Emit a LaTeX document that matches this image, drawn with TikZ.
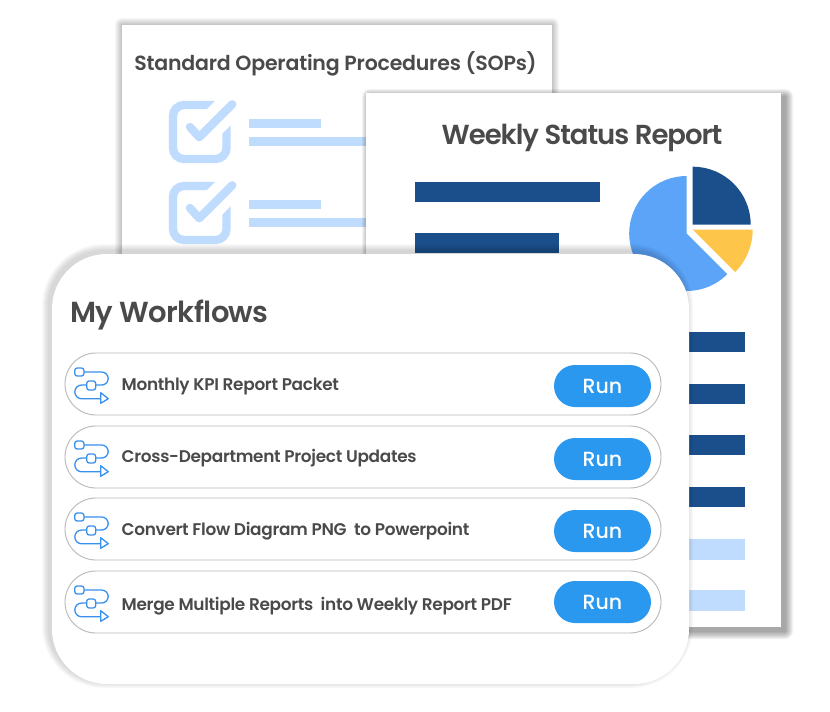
\documentclass[tikz,border=0pt]{standalone}
\usepackage{fontspec}
\setmainfont{Poppins}[BoldFont={Poppins SemiBold}]
\newfontfamily\runfont{Poppins Medium}
\definecolor{inkgray}{HTML}{4A4A4A}
\definecolor{navybar}{HTML}{1B4F8C}
\definecolor{palebar}{HTML}{BFDBFE}
\definecolor{skyblue}{HTML}{5CA4F8}
\definecolor{sunyellow}{HTML}{FEC54B}
\definecolor{runblue}{HTML}{2B98F0}
\definecolor{iconblue}{HTML}{3A90EE}
\definecolor{rowgray}{HTML}{B8B8B8}

\tikzstyle{sheet} = [fill=white]
\tikzstyle{navy} = [fill=navybar]
\tikzstyle{pale} = [fill=palebar]
\tikzstyle{rowbox} = [draw=rowgray,line width=0.9pt,fill=white,rounded corners=31pt,minimum width=596pt,minimum height=62pt,inner sep=0pt]
\tikzstyle{runbtn} = [fill=runblue,text=white,rounded corners=21pt,minimum width=97pt,minimum height=42pt,inner sep=0pt,font=\fontsize{20.5}{22}\runfont]
\tikzstyle{rowlabel} = [anchor=west,inner sep=0pt,text=inkgray,font=\fontsize{16.9}{20}\selectfont\bfseries\addfontfeature{LetterSpace=-1.8}]
\tikzstyle{title} = [inner sep=0pt,text=inkgray]
\tikzstyle{iconline} = [draw=iconblue,line width=1.3pt,line join=round]

% soft shadow: x0,y0,x1,y1,radius,shift x,shift y,spread,opacity
\newcommand{\softshadow}[9]{
	\foreach \s in {1,...,#8}
		\fill[black,opacity=#9,rounded corners=#5pt+\s pt] (#1+#6-\s,#2+#7-\s) rectangle (#3+#6+\s,#4+#7+\s);
}
% tick box at top left corner x,y
\newcommand{\tickbox}[2]{
	\begin{scope}[shift={(#1,#2)}]
		\draw[palebar,line width=8.3pt,rounded corners=11pt] (4,4) rectangle (57.5,58);
		\draw[white,line width=28pt] (30,36) -- (70,-4);
		\draw[palebar,line width=8.3pt,line cap=round,line join=round] (21,26) -- (30.3,36.3) -- (63.3,3.3);
		\fill[palebar] (80,18) rectangle (152,27);
		\fill[palebar] (80,36) rectangle (280,45);
	\end{scope}
}

\begin{document}
\begin{tikzpicture}[x=1pt,y=-1pt]
	\useasboundingbox (0,0) rectangle (830,712);

	% sops sheet
	\softshadow{122}{25}{552}{300}{0}{0}{0}{7}{0.035}
	\fill[sheet] (122,25) rectangle (552,300);
	\node[title,font=\fontsize{20.5}{24}\selectfont\bfseries\addfontfeature{LetterSpace=-1}] (soptitle) at (335.5,64) {Standard Operating Procedures (SOPs)};
	\tickbox{169}{101}
	\tickbox{169}{182}

	% report sheet
	\softshadow{366}{93}{781}{627}{0}{4}{4}{8}{0.05}
	\fill[sheet] (366,93) rectangle (781,627);
	\node[title,font=\fontsize{27.5}{32}\selectfont\bfseries\addfontfeature{LetterSpace=-3.7}] (reporttitle) at (582,137.5) {Weekly Status Report};
	\fill[navy] (415,182) rectangle (600,202);
	\fill[navy] (415,233) rectangle (559,253);
	\foreach \y in {332,384,435,487}
		\fill[navy] (600,\y) rectangle (745,\y+20);
	\foreach \y in {539,590}
		\fill[pale] (600,\y) rectangle (745,\y+20.5);

	% pie
	\fill[skyblue] (686.7,233.5) -- +(90:57.5pt) arc[start angle=90,end angle=315,radius=57.5pt] -- cycle;
	\fill[navybar] (692.7,224.7) -- +(90:58pt) arc[start angle=90,end angle=0,radius=58pt] -- cycle;
	\fill[sunyellow] (692.7,229.7) -- +(0:60pt) arc[start angle=0,end angle=-45,radius=60pt] -- cycle;

	% workflows card
	\softshadow{52}{254}{689}{684}{55}{-3}{-3}{7}{0.022}
	\fill[sheet,rounded corners=55pt] (52,254) rectangle (689,684);
	\node[title,anchor=west,font=\fontsize{29}{34}\selectfont\bfseries\addfontfeature{LetterSpace=-2}] (cardtitle) at (70,314.5) {My Workflows};

	\foreach \i/\rowy/\runy/\texty/\rowtext in {
		1/353/386/386/Monthly KPI Report Packet,
		2/426/459/458/Cross-Department Project Updates,
		3/498/531/531/Convert Flow Diagram PNG\ \ to Powerpoint,
		4/571/602/606/Merge Multiple Reports\ \ into Weekly Report PDF}
	{
		\node[rowbox] (row\i) at (363,\rowy+31) {};
		\node[runbtn] (run\i) at (602.5,\runy) {\raisebox{-1pt}{Run}};
		\node[rowlabel] (label\i) at (121.5,\texty) {\rowtext};
		\begin{scope}[shift={(0,\rowy)}]
			\draw[iconline,rounded corners=2.5pt] (74.7,15) rectangle (84,23);
			\draw[iconline,rounded corners=2.5pt] (86.7,28) rectangle (95.7,37);
			\draw[iconline] (84,19) -- (101.7,19) arc[start angle=90,end angle=-90,radius=6.5pt] -- (95.7,32);
			\draw[iconline] (86.7,32) -- (81.7,32) arc[start angle=90,end angle=270,radius=6.9pt] -- (100.7,45.8);
			\draw[iconline] (100.7,39.7) -- (108.3,45.7) -- (100.7,50.3) -- cycle;
		\end{scope}
	}
\end{tikzpicture}
\end{document}
